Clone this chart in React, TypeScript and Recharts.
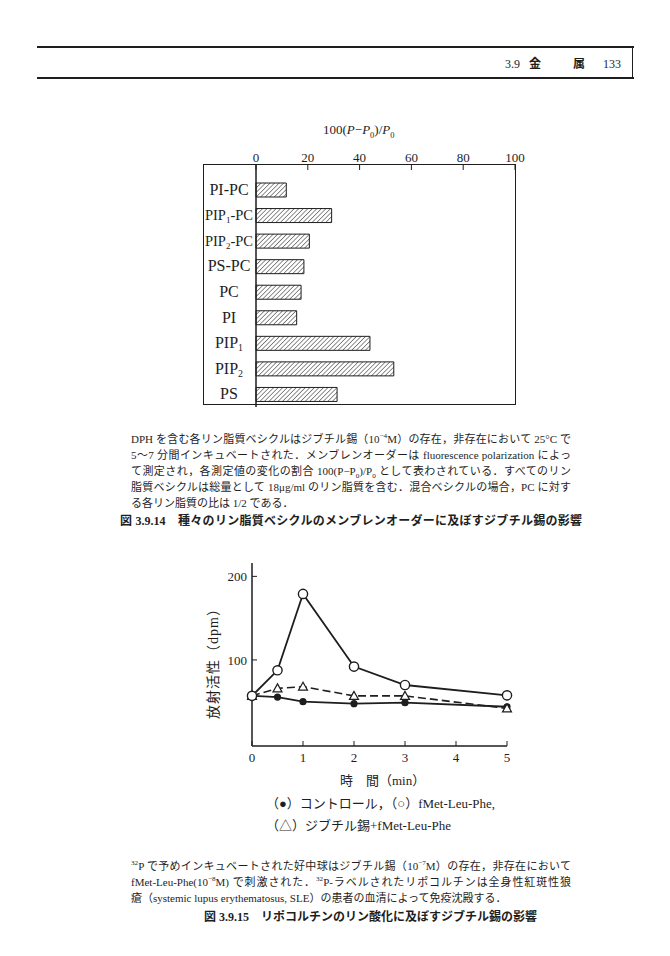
import React from 'react';
import { BarChart, Bar, XAxis, YAxis, LineChart, Line } from 'recharts';

// fig 3.9.14 – membrane order change per vesicle type
const lipidNames = ['PI-PC', 'PIP1-PC', 'PIP2-PC', 'PS-PC', 'PC', 'PI', 'PIP1', 'PIP2', 'PS'];
const orderChange = [11.7, 29.2, 20.6, 18.5, 17.4, 15.7, 44, 53.2, 31.3];
const orderTicks = [0, 20, 40, 60, 80, 100];

// fig 3.9.15 – lipocortin phosphorylation (dpm)
const minutes = [0, 0.5, 1, 2, 3, 5];
const control = [57, 55.6, 50, 47.6, 48.8, 44];
const fmlp = [57, 87.6, 179, 92, 70, 57.6];
const dbtFmlp = [57, 66, 68, 57, 57, 42];
const timeTicks = [0, 1, 2, 3, 4, 5];
const dpmTicks = [100, 200];

const ink = '#1e1e1e';
const serif = '"Liberation Serif", "Noto Sans CJK JP", serif';
const jp = '"Liberation Serif", "Noto Sans CJK JP", sans-serif';

const barData = lipidNames.map((name, i) => ({ name, value: orderChange[i] }));
const lineData = minutes.map((t, i) => ({ t, control: control[i], fmlp: fmlp[i], dbt: dbtFmlp[i] }));

function LipidTick({ x, y, payload }: any) {
  const m = /^(PIP)(\d)(.*)$/.exec(payload.value);
  const size = payload.value.length > 5 ? 14.5 : 16;
  return (
    <text x={x - 17} y={y} dy={5} textAnchor="middle" fontSize={size} fontFamily={serif} fill={ink}>
      {m ? (
        <>
          <tspan>{m[1]}</tspan>
          <tspan fontSize={size * 0.62} dy={3}>{m[2]}</tspan>
          <tspan dy={-3}>{m[3]}</tspan>
        </>
      ) : (
        payload.value
      )}
    </text>
  );
}

const filledDot = (p: any) => <circle key={`c${p.index}`} cx={p.cx} cy={p.cy} r={3.6} fill={ink} />;
const openDot = (p: any) => (
  <circle key={`o${p.index}`} cx={p.cx} cy={p.cy} r={4.6} fill="#fff" stroke={ink} strokeWidth={1.4} />
);
const triDot = (p: any) => (
  <polygon
    key={`t${p.index}`}
    points={`${p.cx},${p.cy - 4.5} ${p.cx - 4.5},${p.cy + 3.5} ${p.cx + 4.5},${p.cy + 3.5}`}
    fill="#fff"
    stroke={ink}
    strokeWidth={1.2}
  />
);

function Txt({ x, y, size = 11, children, style }: any) {
  return (
    <div
      style={{
        position: 'absolute',
        left: x,
        top: y - size * 0.6,
        fontSize: size,
        lineHeight: 1.2,
        fontFamily: jp,
        color: ink,
        whiteSpace: 'nowrap',
        ...style,
      }}
    >
      {children}
    </div>
  );
}

function Para({ x, y, lines, width = 440, size = 11, gap = 16 }: any) {
  return (
    <>
      {lines.map((ln: any, i: number) => (
        <div
          key={i}
          style={{
            position: 'absolute',
            left: x,
            top: y + i * gap - size * 0.6,
            width,
            fontSize: size,
            lineHeight: 1.2,
            fontFamily: jp,
            color: ink,
            whiteSpace: 'nowrap',
            textAlign: 'justify',
            textAlignLast: i < lines.length - 1 ? 'justify' : 'left',
          }}
        >
          {ln}
        </div>
      ))}
    </>
  );
}

const sup = (s: string) => <sup style={{ fontSize: '0.65em', lineHeight: 0 }}>{s}</sup>;
const sub = (s: string) => <sub style={{ fontSize: '0.65em', lineHeight: 0 }}>{s}</sub>;

export default function App() {
  return (
    <div style={{ position: 'absolute', left: 0, top: 0, width: 670, height: 956, background: '#fff', overflow: 'hidden' }}>
      {/* running header */}
      <div style={{ position: 'absolute', left: 37, top: 46, width: 597, height: 0, borderTop: `2px solid ${ink}` }} />
      <div style={{ position: 'absolute', left: 37, top: 77, width: 597, height: 0, borderTop: `2px solid ${ink}` }} />
      <div style={{ position: 'absolute', left: 632, top: 46, width: 0, height: 33, borderLeft: `1.5px solid ${ink}` }} />
      <Txt x={505} y={64} size={12}>3.9</Txt>
      <Txt x={529} y={64} size={12} style={{ fontWeight: 700 }}>金</Txt>
      <Txt x={573} y={64} size={12} style={{ fontWeight: 700 }}>属</Txt>
      <Txt x={603} y={64} size={12}>133</Txt>

      {/* fig 3.9.14 */}
      <Txt x={323} y={130} size={13} style={{ fontFamily: serif }}>
        100(<i>P</i>−<i>P</i>{sub('0')})/<i>P</i>{sub('0')}
      </Txt>
      <div style={{ position: 'absolute', left: 0, top: 0 }}>
        <BarChart
          width={670}
          height={410}
          data={barData}
          layout="vertical"
          margin={{ top: 145, right: 155, bottom: 3, left: 203 }}
        >
          <defs>
            <pattern id="hatch" width="3.2" height="3.2" patternUnits="userSpaceOnUse" patternTransform="rotate(45)">
              <line x1="0" y1="0" x2="0" y2="3.2" stroke={ink} strokeWidth="1" />
            </pattern>
          </defs>
          <XAxis
            type="number"
            orientation="top"
            domain={[0, 100]}
            ticks={orderTicks}
            height={20}
            axisLine={false}
            tickSize={-5}
            tickMargin={8}
            tickLine={{ stroke: ink, strokeWidth: 1 }}
            tick={{ fill: ink, fontSize: 13, fontFamily: serif }}
          />
          <YAxis
            type="category"
            dataKey="name"
            width={53}
            padding={{ top: 12, bottom: 0 }}
            axisLine={{ stroke: ink, strokeWidth: 1.5 }}
            tickLine={false}
            tickMargin={4}
            tick={<LipidTick />}
          />
          <Bar dataKey="value" fill="url(#hatch)" stroke={ink} strokeWidth={1} barSize={14} isAnimationActive={false} />
        </BarChart>
      </div>
      <div
        style={{
          position: 'absolute',
          left: 203,
          top: 164,
          width: 313,
          height: 241,
          border: `1.5px solid ${ink}`,
          boxSizing: 'border-box',
        }}
      />
      <Para
        x={131}
        y={440}
        lines={[
          <>DPH を含む各リン脂質ベシクルはジブチル錫（10{sup('−4')}M）の存在，非存在において 25°C で</>,
          <>5〜7 分間インキュベートされた．メンブレンオーダーは fluorescence polarization によっ</>,
          <>て測定され，各測定値の変化の割合 100(P−P{sub('0')})/P{sub('0')} として表わされている．すべてのリン</>,
          <>脂質ベシクルは総量として 18μg/ml のリン脂質を含む．混合ベシクルの場合，PC に対す</>,
          <>る各リン脂質の比は 1/2 である．</>,
        ]}
      />
      <Txt x={120} y={521} size={12} style={{ fontWeight: 700, width: 462, textAlignLast: 'justify' }}>
        図 3.9.14　種々のリン脂質ベシクルのメンブレンオーダーに及ぼすジブチル錫の影響
      </Txt>

      {/* fig 3.9.15 */}
      <div style={{ position: 'absolute', left: 0, top: 540 }}>
        <LineChart width={670} height={260} data={lineData} margin={{ top: 23, right: 163, bottom: 24, left: 200 }}>
          <XAxis
            dataKey="t"
            type="number"
            domain={[0, 5]}
            ticks={timeTicks}
            height={30}
            axisLine={{ stroke: ink, strokeWidth: 1.5 }}
            tickSize={-5}
            tickMargin={12}
            tickLine={{ stroke: ink, strokeWidth: 1 }}
            tick={{ fill: ink, fontSize: 13, fontFamily: serif }}
          />
          <YAxis
            type="number"
            domain={[-3, 216]}
            allowDataOverflow
            ticks={dpmTicks}
            width={52}
            axisLine={{ stroke: ink, strokeWidth: 1.5 }}
            tickSize={-5}
            tickMargin={10}
            tickLine={{ stroke: ink, strokeWidth: 1 }}
            tick={{ fill: ink, fontSize: 13, fontFamily: serif }}
          />
          <Line dataKey="control" type="linear" stroke={ink} strokeWidth={1.8} dot={filledDot} isAnimationActive={false} />
          <Line
            dataKey="dbt"
            type="linear"
            stroke={ink}
            strokeWidth={1.6}
            strokeDasharray="8 4"
            dot={triDot}
            isAnimationActive={false}
          />
          <Line dataKey="fmlp" type="linear" stroke={ink} strokeWidth={1.8} dot={openDot} isAnimationActive={false} />
        </LineChart>
      </div>
      <Txt x={340} y={781} size={13}>時　間（min）</Txt>
      <div
        style={{
          position: 'absolute',
          left: 212,
          top: 660,
          transform: 'translate(-50%, -50%) rotate(-90deg)',
          fontSize: 14,
          letterSpacing: 1,
          fontFamily: jp,
          color: ink,
          whiteSpace: 'nowrap',
        }}
      >
        放射活性（dpm）
      </div>
      <Txt x={266} y={804} size={13}>（●）コントロール，（○）fMet-Leu-Phe,</Txt>
      <Txt x={266} y={826} size={13}>（△）ジブチル錫+fMet-Leu-Phe</Txt>

      <Para
        x={131}
        y={867}
        lines={[
          <>{sup('32')}P で予めインキュベートされた好中球はジブチル錫（10{sup('−7')}M）の存在，非存在において</>,
          <>fMet-Leu-Phe(10{sup('−8')}M) で刺激された．{sup('32')}P-ラベルされたリポコルチンは全身性紅斑性狼</>,
          <>瘡（systemic lupus erythematosus, SLE）の患者の血清によって免疫沈殿する．</>,
        ]}
      />
      <Txt x={204} y={917} size={12} style={{ fontWeight: 700, width: 322, textAlignLast: 'justify' }}>
        図 3.9.15　リポコルチンのリン酸化に及ぼすジブチル錫の影響
      </Txt>
    </div>
  );
}
